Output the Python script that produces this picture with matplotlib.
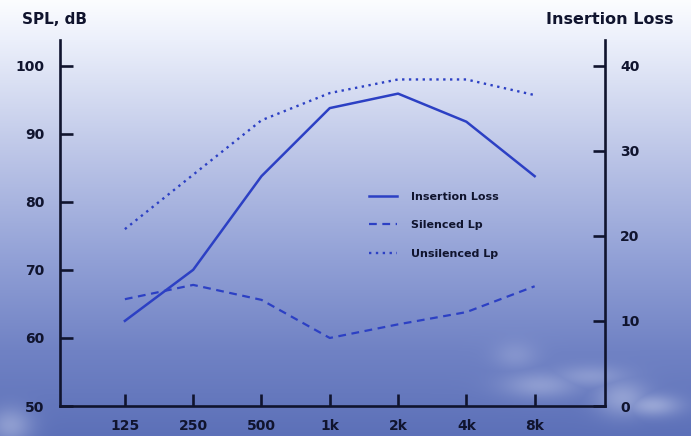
import numpy as np
import matplotlib
matplotlib.use("Agg")
import matplotlib.pyplot as plt
from matplotlib.font_manager import FontProperties

# ---- data ----
freq_labels = ["125", "250", "500", "1k", "2k", "4k", "8k"]
unsilenced_lp = [76, 84, 92, 96, 98, 98, 95.7]
silenced_lp = [65.7, 67.8, 65.6, 60, 62, 63.8, 67.6]
insertion_loss = [10, 16, 27, 35, 36.7, 33.4, 27]
left_ticks = [50, 60, 70, 80, 90, 100]
right_ticks = [0, 10, 20, 30, 40]

W, H = 691, 436
fig = plt.figure(figsize=(W / 100, H / 100), dpi=100)

# ---- decorative sky background ----
bg = fig.add_axes([0, 0, 1, 1], zorder=0)
bg.set_axis_off()
yy, xx = np.mgrid[0:H, 0:W].astype(float)
stops_y = [0, 40, 150, 260, 350, 436]
stops_c = np.array([[252, 253, 255], [236, 240, 251], [190, 199, 232],
                    [145, 160, 214], [112, 130, 196], [92, 112, 184]]) / 255.0
img = np.stack([np.interp(yy, stops_y, stops_c[:, k]) for k in range(3)], -1)
clouds = [(540, 385, 38, 13, 0.30), (590, 376, 38, 11, 0.26),
          (622, 398, 26, 18, 0.35), (652, 405, 28, 11, 0.40),
          (515, 355, 22, 14, 0.18), (10, 425, 22, 18, 0.35)]
a = np.zeros((H, W))
for cx, cy, sx, sy, amp in clouds:
    a = np.maximum(a, amp * np.exp(-(((xx - cx) / sx) ** 2 + ((yy - cy) / sy) ** 2)))
img = img * (1 - a[..., None]) + np.array([0.90, 0.92, 0.98]) * a[..., None]
bg.imshow(img, aspect="auto", extent=[0, 1, 0, 1], origin="upper")
bg.set_xlim(0, 1)
bg.set_ylim(0, 1)

ink = "#10142e"
line_c = "#2c40c4"
fam = "DejaVu Sans"

left, right, bottom, top = 60 / W, 605 / W, 1 - 406 / H, 1 - 40 / H
ax = fig.add_axes([left, bottom, right - left, top - bottom], zorder=2)
ax.patch.set_alpha(0)
ax2 = ax.twinx()
ax2.patch.set_alpha(0)

x = np.arange(len(freq_labels))
l2, = ax.plot(x, silenced_lp, color=line_c, lw=1.6, ls=(0, (3.5, 2.5)),
              label="Silenced Lp")
l3, = ax.plot(x, unsilenced_lp, color=line_c, lw=1.7, ls=(0, (1, 1.9)),
              label="Unsilenced Lp")
l1, = ax2.plot(x, insertion_loss, color=line_c, lw=1.8, label="Insertion Loss")

ax.set_xlim(-0.95, 7.03)
ax.set_ylim(50, 103.8)
ax2.set_ylim(0, 43.0)

ax.set_xticks(x)
ax.set_xticklabels(freq_labels)
ax.set_yticks(left_ticks)
ax2.set_yticks(right_ticks)

for a_ in (ax, ax2):
    for s in a_.spines.values():
        s.set_color(ink)
        s.set_linewidth(1.9)
    a_.spines["top"].set_visible(False)
ax.spines["right"].set_visible(False)
ax2.spines["left"].set_visible(False)
ax2.spines["bottom"].set_visible(False)

tick_fp = FontProperties(family=fam, weight="bold", size=10)
ax.tick_params(axis="both", direction="in", length=9, width=1.9,
               color=ink, labelcolor=ink)
ax.tick_params(axis="y", pad=11)
ax.tick_params(axis="x", pad=9)
ax2.tick_params(axis="y", direction="in", length=9, width=1.9,
                color=ink, labelcolor=ink, pad=11)
for lab in ax.get_xticklabels() + ax.get_yticklabels() + ax2.get_yticklabels():
    lab.set_fontproperties(tick_fp)

fig.text(22 / W, 1 - 20 / H, "SPL, dB", ha="left", va="center",
         color=ink, family=fam, weight="bold", size=11)
fig.text(674 / W, 1 - 20 / H, "Insertion Loss", ha="right", va="center",
         color=ink, family=fam, weight="bold", size=11.5)

leg = fig.legend(handles=[l1, l2, l3], loc="upper left",
                 bbox_to_anchor=(369 / W, 1 - 192 / H), frameon=False,
                 prop=dict(family=fam, weight="bold", size=8),
                 handlelength=2.5, handletextpad=1.3, labelspacing=1.65,
                 borderpad=0, borderaxespad=0)
for t in leg.get_texts():
    t.set_color(ink)

fig.savefig("out.png", dpi=100)
